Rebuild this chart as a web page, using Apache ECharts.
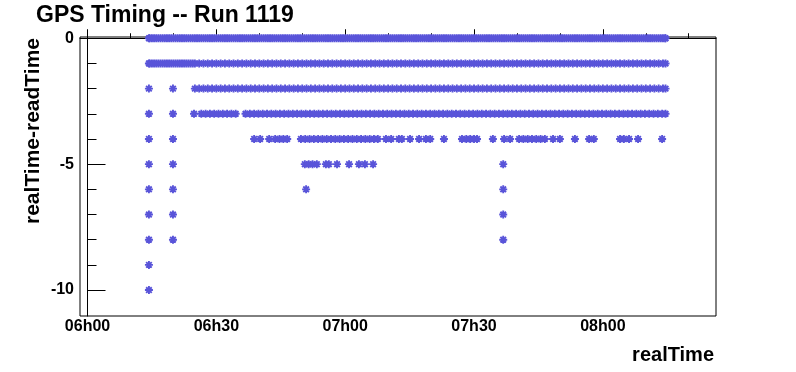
<!DOCTYPE html>
<html>
<head>
<meta charset="utf-8">
<script src="https://cdn.jsdelivr.net/npm/echarts@6/dist/echarts.min.js"></script>
<style>
  html, body { margin: 0; padding: 0; background: #fff; }
  #chart { width: 796px; height: 372px; }
</style>
</head>
<body>
<div id="chart"></div>
<script>
// realTime is kept in minutes after 06h00
// one list of times for each value of realTime-readTime
const times0 = [
  14.3, 14.5, 15, 15.5, 16, 16.5, 17, 17.5, 18, 18.5, 19, 19.5,
  20, 20.5, 21, 21.5, 22, 22.5, 23, 23.5, 24, 24.5, 25, 25.5, 26, 26.5, 27, 27.5, 28, 28.5, 29, 29.5,
  30, 30.5, 31, 31.5, 32, 32.5, 33, 33.5, 34, 34.5, 35, 35.5, 36, 36.5, 37, 37.5, 38, 38.5, 39, 39.5,
  40, 40.5, 41, 41.5, 42, 42.5, 43, 43.5, 44, 44.5, 45, 45.5, 46, 46.5, 47, 47.5, 48, 48.5, 49, 49.5,
  50, 50.5, 51, 51.5, 52, 52.5, 53, 53.5, 54, 54.5, 55, 55.5, 56, 56.5, 57, 57.5, 58, 58.5, 59, 59.5,
  60, 60.5, 61, 61.5, 62, 62.5, 63, 63.5, 64, 64.5, 65, 65.5, 66, 66.5, 67, 67.5, 68, 68.5, 69, 69.5,
  70, 70.5, 71, 71.5, 72, 72.5, 73, 73.5, 74, 74.5, 75, 75.5, 76, 76.5, 77, 77.5, 78, 78.5, 79, 79.5,
  80, 80.5, 81, 81.5, 82, 82.5, 83, 83.5, 84, 84.5, 85, 85.5, 86, 86.5, 87, 87.5, 88, 88.5, 89, 89.5,
  90, 90.5, 91, 91.5, 92, 92.5, 93, 93.5, 94, 94.5, 95, 95.5, 96, 96.5, 97, 97.5, 98, 98.5, 99, 99.5,
  100, 100.5, 101, 101.5, 102, 102.5, 103, 103.5, 104, 104.5, 105, 105.5, 106, 106.5, 107, 107.5, 108, 108.5, 109, 109.5,
  110, 110.5, 111, 111.5, 112, 112.5, 113, 113.5, 114, 114.5, 115, 115.5, 116, 116.5, 117, 117.5, 118, 118.5, 119, 119.5,
  120, 120.5, 121, 121.5, 122, 122.5, 123, 123.5, 124, 124.5, 125, 125.5, 126, 126.5, 127, 127.5, 128, 128.5, 129, 129.5,
  130, 130.5, 131, 131.5, 132, 132.5, 133, 133.5, 134, 134.5, 134.6
]
const times1 = [
  14.3, 14.5, 15, 15.5, 16, 16.5, 17, 17.5, 18, 18.5, 19, 19.5,
  20, 20.5, 21, 21.5, 22, 22.5, 23, 23.5, 24, 24.5, 25,
  26, 27, 28, 29, 30, 31, 32, 33, 34, 35, 36, 37, 38, 39, 40, 41, 42, 43, 44, 45, 46, 47, 48, 49,
  50, 51, 52, 53, 54, 55, 56, 57, 58, 59, 60, 61, 62, 63, 64, 65, 66, 67, 68, 69, 70, 71, 72, 73, 74,
  75, 76, 77, 78, 79, 80, 81, 82, 83, 84, 85, 86, 87, 88, 89, 90, 91, 92, 93, 94, 95, 96, 97, 98, 99,
  100, 101, 102, 103, 104, 105, 106, 107, 108, 109, 110, 111, 112, 113, 114, 115, 116, 117, 118, 119,
  120, 121, 122, 123, 124, 125, 126, 127, 128, 129, 130, 131, 132, 133, 134, 134.6
]
const times2 = [
  14.3, 19.9,
  25, 26, 27, 28, 29, 30, 31, 32, 33, 34, 35, 36, 37, 38, 39, 40, 41, 42, 43, 44, 45, 46, 47, 48, 49,
  50, 51, 52, 53, 54, 55, 56, 57, 58, 59, 60, 61, 62, 63, 64, 65, 66, 67, 68, 69, 70, 71, 72, 73, 74,
  75, 76, 77, 78, 79, 80, 81, 82, 83, 84, 85, 86, 87, 88, 89, 90, 91, 92, 93, 94, 95, 96, 97, 98, 99,
  100, 101, 102, 103, 104, 105, 106, 107, 108, 109, 110, 111, 112, 113, 114, 115, 116, 117, 118, 119,
  120, 121, 122, 123, 124, 125, 126, 127, 128, 129, 130, 131, 132, 133, 134, 134.6
]
const times3 = [
  14.3, 19.9, 24.8,
  26.5, 27.5, 28.5, 29.5, 30.5, 31.5, 32.5, 33.5, 34.5,
  36.8, 37.8, 38.8, 39.8, 40.8, 41.8, 42.8, 43.8, 44.8, 45.8, 46.8, 47.8, 48.8, 49.8,
  50.8, 51.8, 52.8, 53.8, 54.8, 55.8, 56.8, 57.8, 58.8, 59.8, 60.8, 61.8, 62.8, 63.8, 64.8,
  65.8, 66.8, 67.8, 68.8, 69.8, 70.8, 71.8, 72.8, 73.8, 74.8, 75.8, 76.8, 77.8, 78.8, 79.8,
  80.8, 81.8, 82.8, 83.8, 84.8, 85.8, 86.8, 87.8, 88.8, 89.8, 90.8, 91.8, 92.8, 93.8, 94.8,
  95.8, 96.8, 97.8, 98.8, 99.8, 100.8, 101.8, 102.8, 103.8, 104.8, 105.8, 106.8, 107.8, 108.8,
  109.8, 110.8, 111.8, 112.8, 113.8, 114.8, 115.8, 116.8, 117.8, 118.8, 119.8, 120.8, 121.8,
  122.8, 123.8, 124.8, 125.8, 126.8, 127.8, 128.8, 129.8, 130.8, 131.8, 132.8, 133.8, 134.6
]
const times4 = [
  14.3, 19.9, 38.8, 40.2, 42.3, 43.7, 44.7, 45.6, 46.5,
  49.7, 50.7, 51.7, 52.7, 53.7, 54.7, 55.7, 56.7, 57.7, 58.7, 59.7, 60.7, 61.7, 62.7, 63.7,
  64.7, 65.7, 66.7, 67.6, 69.5, 70.7, 72.5, 73.2, 75.1, 77.2, 78.8, 79.8, 83.0,
  87.2, 88.2, 89.1, 90.0, 90.7, 94.4, 97.0, 98.4,
  100.5, 101.5, 102.5, 103.5, 104.5, 105.5, 106.5, 108.4, 110.0, 113.5, 116.8, 117.9,
  124.0, 124.9, 126.1, 128.2, 133.8
]
const times5 = [14.3, 19.9, 50.6, 51.5, 52.4, 53.4, 55.5, 56.2, 58.1, 60.9, 63.2, 64.6, 66.5, 96.8]
const times6 = [14.3, 19.9, 50.9, 96.8]
const times7 = [14.3, 19.9, 96.8]
const times8 = [14.3, 19.9, 96.8]
const times9 = [14.3]
const times10 = [14.3]

const diffValues = [0, -1, -2, -3, -4, -5, -6, -7, -8, -9, -10]
const diffTimes = [times0, times1, times2, times3, times4, times5, times6, times7, times8, times9, times10]

const xMajorTicks = [0, 30, 60, 90, 120]
const xMinorTicks = [10, 20, 40, 50, 70, 80, 100, 110, 130, 140]
const yMajorTicks = [0, -5, -10]
const yMinorTicks = [-1, -2, -3, -4, -6, -7, -8, -9]

const points = []
diffValues.forEach(function (d, i) {
  diffTimes[i].forEach(function (t) {
    points.push([t, d])
  })
})

function clockLabel (v) {
  const h = 6 + Math.floor(v / 60)
  const m = Math.round(v % 60)
  return (h < 10 ? '0' : '') + h + 'h' + (m < 10 ? '0' : '') + m
}

const font = 'Liberation Sans'
const xMin = -1.75
const xMax = 146.35

const myChart = echarts.init(document.getElementById('chart'))

const option = {
  animation: false,
  backgroundColor: '#fff',
  title: {
    text: 'GPS Timing -- Run 1119',
    left: 36,
    top: 4,
    padding: 0,
    textStyle: {
      fontFamily: font,
      fontWeight: 'bold',
      fontSize: 23,
      color: '#000'
    }
  },
  grid: {
    left: 80,
    right: 80,
    top: 37,
    bottom: 56,
    show: true,
    borderColor: '#000',
    borderWidth: 1,
    backgroundColor: 'transparent'
  },
  xAxis: [
    {
      type: 'value',
      min: xMin,
      max: xMax,
      position: 'bottom',
      splitLine: { show: false },
      axisLine: { lineStyle: { color: '#000', width: 1 } },
      axisTick: {
        inside: true,
        length: 9,
        customValues: xMajorTicks,
        lineStyle: { color: '#000' }
      },
      axisLabel: {
        customValues: xMajorTicks,
        formatter: clockLabel,
        margin: 3,
        color: '#000',
        fontFamily: font,
        fontWeight: 'bold',
        fontSize: 16
      }
    },
    {
      type: 'value',
      min: xMin,
      max: xMax,
      position: 'bottom',
      splitLine: { show: false },
      axisLine: { show: false },
      axisTick: {
        inside: true,
        length: 5,
        customValues: xMinorTicks,
        lineStyle: { color: '#000' }
      },
      axisLabel: { show: false }
    }
  ],
  yAxis: [
    {
      type: 'value',
      min: -11.03,
      max: 0.05,
      splitLine: { show: false },
      axisLine: { show: true, lineStyle: { color: '#000', width: 1 } },
      axisTick: {
        inside: true,
        length: 18,
        customValues: yMajorTicks,
        lineStyle: { color: '#000' }
      },
      axisLabel: {
        customValues: yMajorTicks,
        margin: 6,
        padding: [4, 0, 0, 0],
        color: '#000',
        fontFamily: font,
        fontWeight: 'bold',
        fontSize: 16
      }
    },
    {
      type: 'value',
      min: -11.03,
      max: 0.05,
      position: 'left',
      splitLine: { show: false },
      axisLine: { show: false },
      axisTick: {
        show: true,
        inside: true,
        length: 9,
        customValues: yMinorTicks,
        lineStyle: { color: '#000' }
      },
      axisLabel: { show: false }
    }
  ],
  graphic: [
    {
      type: 'text',
      x: 33,
      y: 38,
      rotation: Math.PI / 2,
      style: {
        text: 'realTime-readTime',
        font: 'bold 21px "Liberation Sans"',
        fill: '#000',
        align: 'right',
        verticalAlign: 'middle'
      }
    },
    {
      type: 'text',
      x: 714,
      y: 355,
      style: {
        text: 'realTime',
        font: 'bold 20px "Liberation Sans"',
        fill: '#000',
        align: 'right',
        verticalAlign: 'middle'
      }
    }
  ],
  series: [
    {
      type: 'scatter',
      xAxisIndex: 0,
      yAxisIndex: 0,
      symbol: 'path://M5,0L5,10M0,5L10,5M1.5,1.5L8.5,8.5M1.5,8.5L8.5,1.5',
      symbolSize: 8,
      itemStyle: {
        color: '#5954d9',
        borderColor: '#5954d9',
        borderWidth: 1.9,
        opacity: 1
      },
      data: points
    }
  ]
}

myChart.setOption(option)

window.addEventListener('resize', function () {
  myChart.resize()
})
</script>
</body>
</html>
